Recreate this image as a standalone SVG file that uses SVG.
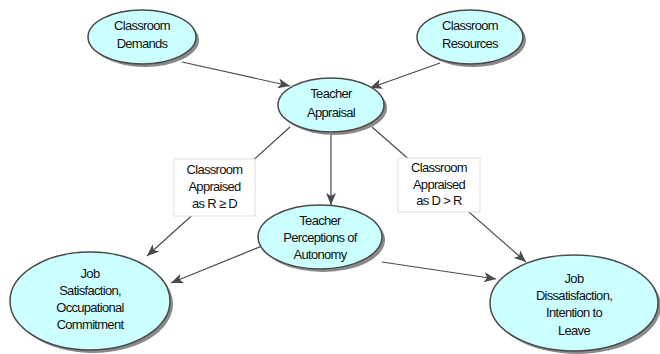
<svg xmlns="http://www.w3.org/2000/svg" width="660" height="354" viewBox="0 0 660 354">
<style>
.n{fill:#ccffff;stroke:#4a4a4a;stroke-width:1.5}
.s{fill:#8a8a8a}
.t{font-family:"Liberation Sans",Arial,sans-serif;font-size:13px;fill:#111;text-anchor:middle;letter-spacing:-0.7px}
.c{stroke:#4a4a4a;stroke-width:1.2;fill:none;marker-end:url(#a)}
.lb{fill:#fff;stroke:#ddd;stroke-width:1}
</style>
<defs>
<marker id="a" viewBox="0 0 12 10" refX="12" refY="5" markerWidth="12" markerHeight="10" markerUnits="userSpaceOnUse" orient="auto">
<path d="M0,0 L12,5 L0,10 L3,5 Z" fill="#4a4a4a"/>
</marker>
</defs>
<rect width="660" height="354" fill="#fff"/>
<g id="connectors">
<line class="c" x1="182" y1="62" x2="290" y2="86"/>
<line class="c" x1="440" y1="63" x2="370" y2="88"/>
<line class="c" x1="331" y1="133" x2="331" y2="205"/>
<line class="c" x1="290" y1="127" x2="147" y2="256"/>
<line class="c" x1="372" y1="127" x2="526" y2="262"/>
<line class="c" x1="262" y1="246" x2="171" y2="283"/>
<line class="c" x1="382" y1="262" x2="496" y2="279"/>
</g>
<g id="label1">
<rect class="lb" x="174" y="159" width="81" height="57"/>
<text class="t" x="214.5" y="174">Classroom</text>
<text class="t" x="214.5" y="191">Appraised</text>
<text class="t" x="214.5" y="208">as R ≥ D</text>
</g>
<g id="label2">
<rect class="lb" x="398" y="158" width="82" height="54"/>
<text class="t" x="439" y="172">Classroom</text>
<text class="t" x="439" y="189">Appraised</text>
<text class="t" x="439" y="205">as D &gt; R</text>
</g>
<g id="demands">
<ellipse class="s" cx="145" cy="40" rx="54" ry="27"/>
<ellipse class="n" cx="142" cy="37" rx="54" ry="27"/>
<text class="t" x="142" y="30">Classroom</text>
<text class="t" x="142" y="48">Demands</text>
</g>
<g id="resources">
<ellipse class="s" cx="473" cy="40" rx="53" ry="27"/>
<ellipse class="n" cx="470" cy="37" rx="53" ry="27"/>
<text class="t" x="470" y="30">Classroom</text>
<text class="t" x="470" y="48">Resources</text>
</g>
<g id="appraisal">
<ellipse class="s" cx="334" cy="108" rx="53" ry="27"/>
<ellipse class="n" cx="331" cy="105" rx="53" ry="27"/>
<text class="t" x="331" y="98">Teacher</text>
<text class="t" x="331" y="117">Appraisal</text>
</g>
<g id="autonomy">
<ellipse class="s" cx="323" cy="240" rx="62" ry="32"/>
<ellipse class="n" cx="320" cy="237" rx="62" ry="32"/>
<text class="t" x="320" y="225">Teacher</text>
<text class="t" x="320" y="242">Perceptions of</text>
<text class="t" x="320" y="259">Autonomy</text>
</g>
<g id="satisfaction">
<ellipse class="s" cx="93" cy="304" rx="80" ry="49"/>
<ellipse class="n" cx="90" cy="301" rx="80" ry="49"/>
<text class="t" x="90" y="278">Job</text>
<text class="t" x="90" y="295">Satisfaction,</text>
<text class="t" x="90" y="312">Occupational</text>
<text class="t" x="90" y="329">Commitment</text>
</g>
<g id="dissatisfaction">
<ellipse class="s" cx="577" cy="306" rx="84" ry="48"/>
<ellipse class="n" cx="574" cy="303" rx="84" ry="48"/>
<text class="t" x="574" y="283">Job</text>
<text class="t" x="574" y="300">Dissatisfaction,</text>
<text class="t" x="574" y="317">Intention to</text>
<text class="t" x="574" y="335">Leave</text>
</g>
</svg>
